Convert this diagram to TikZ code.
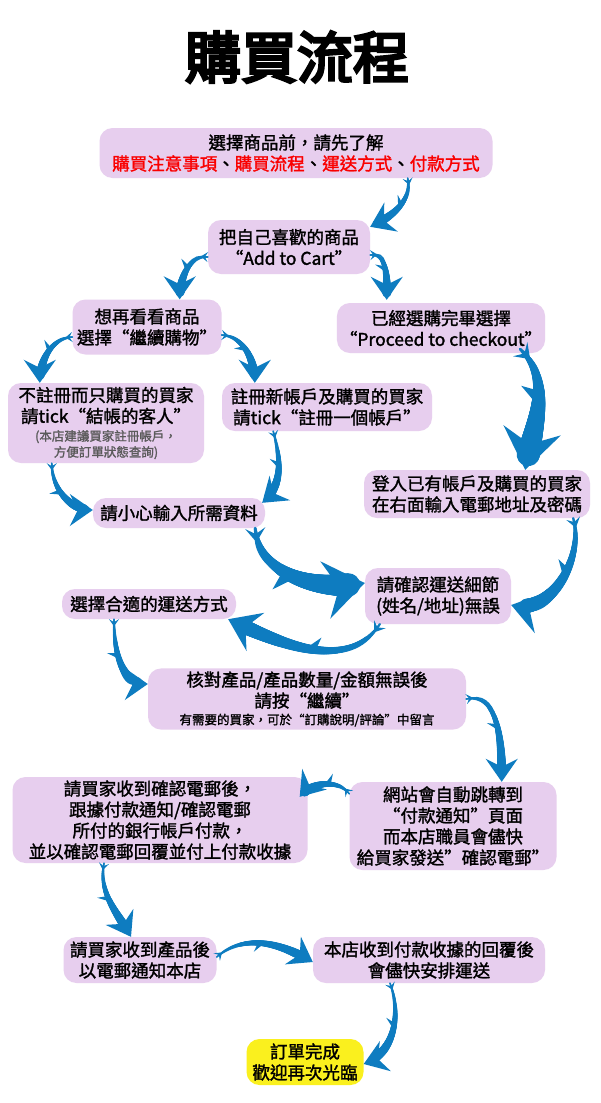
\documentclass[tikz,border=0pt]{standalone}
\usepackage{fontspec}
\usepackage{xcolor}
\usepackage{tikz}
\usetikzlibrary{arrows.meta, decorations.markings}
\newfontfamily\cjk[FakeBold=1.6]{Noto Sans CJK TC}
\newfontfamily\cjktitle[FakeBold=5]{Noto Sans CJK TC}
\definecolor{boxlilac}{RGB}{231,206,238}
\definecolor{donelemon}{RGB}{250,240,30}
\definecolor{swooshblue}{RGB}{14,124,192}
\definecolor{warnred}{RGB}{250,0,0}
\definecolor{notegray}{RGB}{90,90,90}
\newcommand{\redtxt}[1]{\textcolor{warnred}{#1}}
\newcommand{\smallnote}[2][notegray]{{\fontsize{12.5}{14}\selectfont\color{#1}#2}}
\tikzset{
    stepbox/.style={rectangle, fill=boxlilac, rounded corners=13pt, align=center, inner sep=3pt, font=\fontsize{17.5}{21}\cjk},
    endbox/.style={stepbox, fill=donelemon},
    taper/.style n args={4}{postaction={decorate}, decoration={markings,
        mark=between positions 0 and 0.88 step 0.6pt with {%
          \pgfmathsetmacro\swr{#1+(#2-#1)*\pgfkeysvalueof{/pgf/decoration/mark info/distance from start}/\pgfdecoratedpathlength}%
          \fill[swooshblue] (0,0) circle (\swr pt);},
        mark=at position 0.5 with {\arrow{Stealth[right, length=#3, width=#4, inset=3pt]}}}},
    swoosh/.style={draw=swooshblue, line width=1.5pt, {Stealth[reversed, length=7pt, width=10pt, inset=3pt]}-{Stealth[length=23pt, width=32pt, inset=8pt]}, taper={0.9}{5.2}{9pt}{19pt}},
    midswoosh/.style={draw=swooshblue, line width=2pt, {Stealth[reversed, length=10pt, width=14pt, inset=4pt]}-{Stealth[length=30pt, width=42pt, inset=11pt]}, taper={1.2}{8}{13pt}{27pt}},
    bigswoosh/.style={draw=swooshblue, line width=3pt, {Stealth[reversed, length=14pt, width=20pt, inset=6pt]}-{Stealth[length=40pt, width=58pt, inset=14pt]}, taper={1.5}{13}{18pt}{38pt}},
}

\begin{document}
\begin{tikzpicture}[x=1pt, y=1pt]
    \fill[white] (0,0) rectangle (600,-1103);
    \useasboundingbox (0,0) rectangle (600,-1103);

    % Title
    \node[font=\fontsize{56}{60}\cjktitle] (title) at (297,-57) {購買流程};

    % Steps
    \node[stepbox, minimum width=393pt, minimum height=50pt] (pre) at (296,-153) {選擇商品前，請先了解\\\redtxt{購買注意事項}、\redtxt{購買流程}、\redtxt{運送方式}、\redtxt{付款方式}};
    \node[stepbox, minimum width=162pt, minimum height=54pt] (cart) at (289,-247) {把自己喜歡的商品\\“Add to Cart”};
    \node[stepbox, minimum width=149pt, minimum height=55pt] (more) at (147,-327) {想再看看商品\\選擇“繼續購物”};
    \node[stepbox, minimum width=192pt, minimum height=50pt] (checkout) at (441,-328) {已經選購完畢選擇\\“Proceed to checkout”};
    \node[stepbox, minimum width=196pt, minimum height=80pt] (guest) at (106,-423) {不註冊而只購買的買家\\請tick“結帳的客人”\\[-3pt]\smallnote{(本店建議買家註冊帳戶，}\\[-5pt]\smallnote{方便訂單狀態查詢)}};
    \node[stepbox, minimum width=210pt, minimum height=48pt] (register) at (327,-407) {註冊新帳戶及購買的買家\\請tick“註冊一個帳戶”};
    \node[stepbox, minimum width=226pt, minimum height=48pt] (login) at (477,-494) {登入已有帳戶及購買的買家\\在右面輸入電郵地址及密碼};
    \node[stepbox, minimum width=172pt, minimum height=30pt] (input) at (179,-513) {請小心輸入所需資料};
    \node[stepbox, minimum width=146pt, minimum height=56pt] (confirm) at (438,-596) {請確認運送細節\\(姓名/地址)無誤};
    \node[stepbox, minimum width=174pt, minimum height=30pt] (ship) at (149,-604) {選擇合適的運送方式};
    \node[stepbox, minimum width=318pt, minimum height=58pt] (check) at (307,-699) {核對產品/產品數量/金額無誤後\\請按“繼續”\\[-4pt]\smallnote[black]{有需要的買家，可於“訂購說明/評論”中留言}};
    \node[stepbox, minimum width=207pt, minimum height=88pt] (redirect) at (453,-826) {網站會自動跳轉到\\“付款通知”頁面\\而本店職員會儘快\\給買家發送”確認電郵”};
    \node[stepbox, minimum width=295pt, minimum height=86pt] (pay) at (160,-820) {請買家收到確認電郵後，\\跟據付款通知/確認電郵\\所付的銀行帳戶付款，\\並以確認電郵回覆並付上付款收據};
    \node[stepbox, minimum width=153pt, minimum height=46pt] (received) at (140,-960) {請買家收到產品後\\以電郵通知本店};
    \node[stepbox, minimum width=232pt, minimum height=46pt] (dispatch) at (429,-960) {本店收到付款收據的回覆後\\會儘快安排運送};
    \node[endbox, minimum width=117pt, minimum height=46pt] (done) at (305,-1062) {訂單完成\\歡迎再次光臨};

    % Arrows — top part
    \draw[swoosh] ([xshift=-85pt]pre.south east) to[out=-80, in=25] ([yshift=-7pt]cart.north east);
    \draw[swoosh] ([yshift=-10pt]cart.west) to[out=175, in=90] ([xshift=-42pt]more.north east);
    \draw[swoosh] ([yshift=-8pt]cart.east) to[out=5, in=90] ([xshift=50pt,yshift=3pt]checkout.north west);
    \draw[swoosh] ([yshift=-10pt]more.west) to[out=185, in=90] ([xshift=32pt]guest.north west);
    \draw[swoosh] ([yshift=-8pt]more.east) to[out=-5, in=90] ([xshift=33pt]register.north west);
    \draw[swoosh] ([xshift=44pt]guest.south west) to[out=-90, in=180] ([yshift=3pt]input.west);
    \draw[swoosh] ([xshift=-159pt]register.south east) to[out=-75, in=40] ([xshift=-3pt,yshift=-5pt]input.north east);
    % Arrows — into shipping details
    \draw[bigswoosh] ([xshift=-25pt,yshift=4pt]checkout.south east) to[out=-45, in=80] ([xshift=-65pt]login.north east);
    \draw[bigswoosh] ([xshift=-10pt]input.south east) to[out=-85, in=190] ([yshift=13pt]confirm.west);
    \draw[midswoosh] ([xshift=-17pt]login.south east) to[out=-75, in=-15] ([yshift=-9pt]confirm.east);
    \draw[midswoosh] ([xshift=15pt]confirm.south west) to[out=-125, in=-25] ([xshift=-8pt]ship.south east);
    % Arrows — payment and delivery
    \draw[swoosh] ([xshift=-35pt]ship.south) to[out=-90, in=180] ([yshift=15pt]check.west);
    \draw[swoosh] (check.east) to[out=10, in=90] ([xshift=-55pt]redirect.north east);
    \draw[swoosh] ([yshift=-12pt]redirect.north west) to[out=130, in=50] ([xshift=-8pt,yshift=-20pt]pay.north east);
    \draw[swoosh] ([xshift=-56pt]pay.south) to[out=-100, in=120] ([xshift=-9pt]received.north);
    \draw[swoosh] ([yshift=3pt]received.east) to[out=40, in=150] ([yshift=-2pt]dispatch.west);
    \draw[swoosh] ([xshift=-39pt]dispatch.south) to[out=-70, in=20] ([yshift=-2pt]done.east);
\end{tikzpicture}
\end{document}
